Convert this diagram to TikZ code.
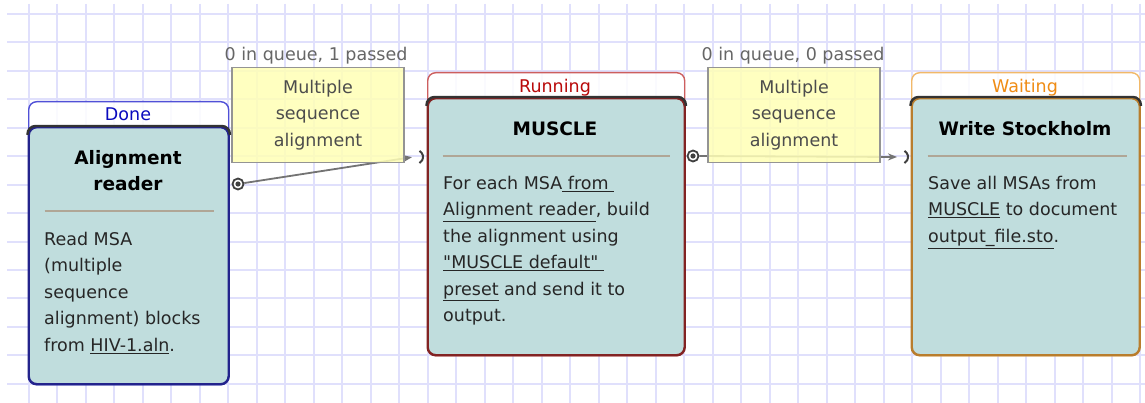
\documentclass[tikz,border=0pt]{standalone}
\usepackage{fontspec}
\setmainfont{DejaVu Sans}
\usetikzlibrary{arrows.meta}

\definecolor{gridblue}{RGB}{224,224,252}
\definecolor{taskfill}{RGB}{182,216,216}
\definecolor{msafill}{RGB}{255,255,182}
\definecolor{sepgray}{RGB}{176,166,150}
\definecolor{donetext}{RGB}{10,10,190}
\definecolor{doneframe}{RGB}{80,80,215}
\definecolor{donedark}{RGB}{35,35,140}
\definecolor{runtext}{RGB}{185,10,10}
\definecolor{runframe}{RGB}{205,95,95}
\definecolor{rundark}{RGB}{130,35,35}
\definecolor{waittext}{RGB}{240,140,20}
\definecolor{waitframe}{RGB}{242,185,105}
\definecolor{waitdark}{RGB}{185,125,45}

\tikzset{
  gridline/.style={gridblue, line width=1.3pt},
  statframe/.style={draw, fill=white, fill opacity=0.85, rounded corners=8pt, line width=1.4pt,
    anchor=north west, inner sep=0, minimum height=283pt},
  taskbox/.style={draw, fill=taskfill, fill opacity=0.85, rounded corners=8pt, line width=2.4pt,
    anchor=south, inner sep=0, minimum height=257pt},
  topedge/.style={draw=black!80, line width=2.4pt, rounded corners=8pt},
  statlabel/.style={font=\fontsize{17.5}{20}\selectfont, anchor=base, inner sep=0},
  tasktitle/.style={font=\fontsize{18.5}{26}\selectfont\bfseries, align=center, inner sep=0},
  tasktext/.style={font=\fontsize{17.5}{26.5}\selectfont, align=left, anchor=north west,
    inner sep=0, text=black!85},
  sepline/.style={sepgray, line width=1.2pt},
  msabox/.style={draw=black!42, fill=msafill, fill opacity=0.85, text opacity=1,
    line width=1.6pt, align=center,
    minimum width=172pt, minimum height=95pt, inner sep=0, text=black!70,
    font=\fontsize{17.5}{26.5}\selectfont},
  queuelabel/.style={font=\fontsize{17.5}{20}\selectfont, text=black!60, anchor=base, inner sep=0},
  outport/.style={circle, draw=black!75, fill=white, line width=1.8pt, inner sep=0,
    minimum size=11pt, path picture={\fill[black!75] (path picture bounding box.center) circle (2.6pt);}},
  inport/.style={black!75, line width=2pt},
  wire/.style={black!55, line width=1.8pt, -{Stealth[length=9pt,width=7pt]}, shorten >=1pt}
}

\begin{document}
\begin{tikzpicture}[x=1pt,y=-1pt]
\useasboundingbox (0,0) rectangle (1145,403);
\fill[white] (0,0) rectangle (1145,403);

% background grid
\foreach \gx in {1,...,40} {
  \pgfmathsetmacro{\gxx}{round(28.5*\gx)}
  \draw[gridline] (\gxx,4) -- (\gxx,403);
}
\foreach \gy in {0,...,13} {
  \pgfmathsetmacro{\gyy}{round(14+28.45*\gy)}
  \draw[gridline] (7,\gyy) -- (1145,\gyy);
}

% ports
\node[outport] (readerout) at (238,184) {};
\node[outport] (muscleout) at (693,156) {};
\coordinate (musclein) at (413,157);
\coordinate (writerin) at (898,157);

% links (under the slot boxes)
\draw[wire] (readerout) -- (musclein);
\draw[wire] (muscleout) -- (writerin);

% slot boxes
\node[queuelabel] (queue1) at (316,61) {0 in queue, 1 passed};
\node[msabox] (msa1) at (318,115) {Multiple\\sequence\\alignment};
\node[queuelabel] (queue2) at (793,61) {0 in queue, 0 passed};
\node[msabox] (msa2) at (794,115) {Multiple\\sequence\\alignment};

% Alignment reader
\node[statframe, draw=doneframe, minimum width=200pt] (readerframe) at (28,101) {};
\node[taskbox, draw=donedark, minimum width=200pt] (reader) at (readerframe.south) {};
\draw[topedge] ([yshift=-9pt]reader.north west) -- (reader.north west) -- (reader.north east) -- ([yshift=-9pt]reader.north east);
\node[statlabel, text=donetext] (readerstate) at (128,121) {Done};
\node[tasktitle, anchor=north] (readertitle) at (128,150) {Alignment\\reader};
\draw[sepline] ([xshift=17pt,yshift=-85pt]reader.north west) -- ([xshift=-16pt,yshift=-85pt]reader.north east);
\node[tasktext] (readertext) at (44,232) {Read MSA\\(multiple\\sequence\\alignment) blocks\\from \underline{HIV-1.aln}.};

% MUSCLE
\node[statframe, draw=runframe, minimum width=257pt] (muscleframe) at (427,72) {};
\node[taskbox, draw=rundark, minimum width=257pt] (muscle) at (muscleframe.south) {};
\draw[topedge] ([yshift=-9pt]muscle.north west) -- (muscle.north west) -- (muscle.north east) -- ([yshift=-9pt]muscle.north east);
\node[statlabel, text=runtext] (musclestate) at (555,93) {Running};
\node[tasktitle, anchor=base] (muscletitle) at (555,136) {MUSCLE};
\draw[sepline] ([xshift=16pt,yshift=-59pt]muscle.north west) -- ([xshift=-16pt,yshift=-59pt]muscle.north east);
\node[tasktext] (muscletext) at (443,176) {For each MSA\underline{~from~}\\\underline{Alignment reader}, build\\the alignment using\\\underline{\textquotedbl MUSCLE default\textquotedbl~}\\\underline{preset} and send it to\\output.};

% Write Stockholm
\node[statframe, draw=waitframe, minimum width=228pt] (writerframe) at (911,72) {};
\node[taskbox, draw=waitdark, minimum width=228pt] (writer) at (writerframe.south) {};
\draw[topedge] ([yshift=-9pt]writer.north west) -- (writer.north west) -- (writer.north east) -- ([yshift=-9pt]writer.north east);
\node[statlabel, text=waittext] (writerstate) at (1025,93) {Waiting};
\node[tasktitle, anchor=base] (writertitle) at (1025,136) {Write Stockholm};
\draw[sepline] ([xshift=17pt,yshift=-59pt]writer.north west) -- ([xshift=-14pt,yshift=-59pt]writer.north east);
\node[tasktext] (writertext) at (928,176) {Save all MSAs from\\\underline{MUSCLE} to document\\\underline{output\_file.sto}.};

% input port marks
\foreach \inp in {musclein,writerin} {
  \draw[inport] (\inp) ++(3pt,0) ++(60:7pt) arc (60:-60:7pt);
}
\end{tikzpicture}
\end{document}
